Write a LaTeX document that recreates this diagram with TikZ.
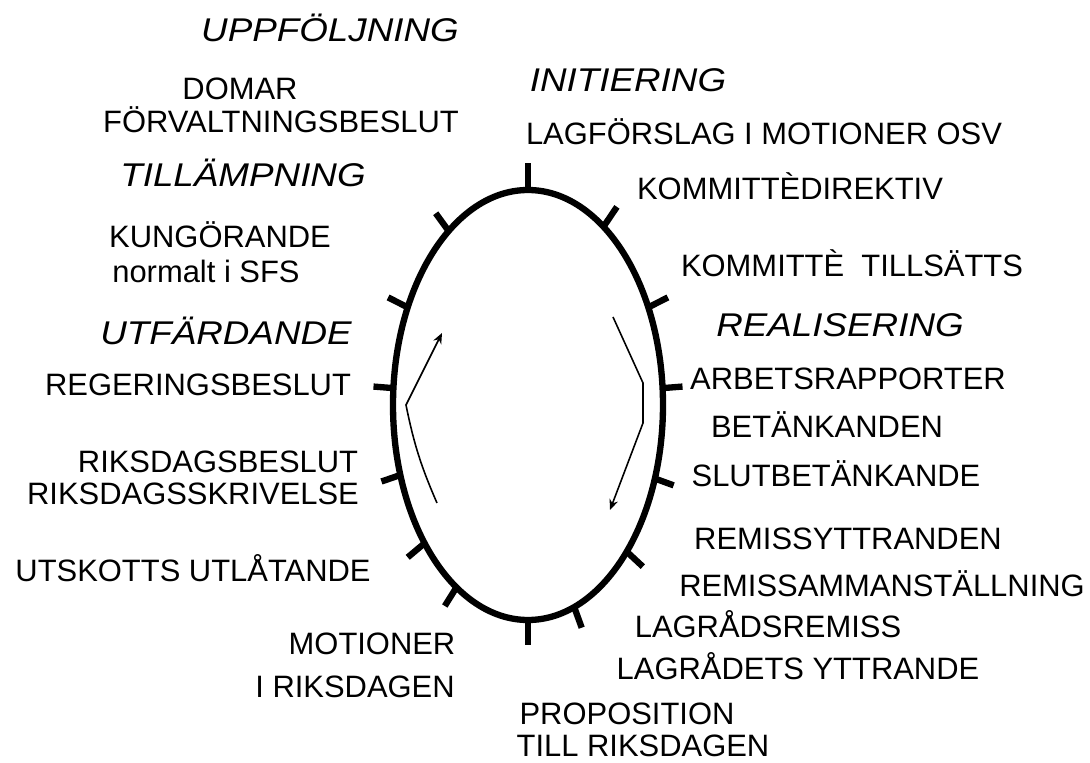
\documentclass[tikz,border=0pt]{standalone}
\usepackage{fontspec}
\setmainfont{Liberation Sans}
\newfontfamily\headfont[FakeStretch=1.12]{Liberation Sans}
\usetikzlibrary{arrows.meta, calc}

\begin{document}
\begin{tikzpicture}[x=0.02cm, y=0.02cm]
    \tikzset{
        item label/.style={font=\fontsize{17.6}{20}\selectfont, inner sep=0pt, anchor=base},
        phase label/.style={font=\headfont\itshape\fontsize{18.7}{21}\selectfont, inner sep=0pt, anchor=base},
        cycle line/.style={line width=3.6pt},
        tick mark/.style={line width=3.6pt},
        flow arrow/.style={line width=0.9pt, -{Stealth[length=6pt, width=5pt]}}
    }
    \useasboundingbox (0,-763) rectangle (1090,0);

    % --- the cycle ---
    \coordinate (cyc) at (528,-405);
    \draw[cycle line] (cyc) ellipse [x radius=135, y radius=215];
    \foreach \a/\l in {90/27, 56/24, 27/22, 4.5/20, -20/20, -43/22, -70/22, -90/25,
                       -122/22, -140/22, -161/20, 175.5/20, 153/22, 126/22}
        \draw[tick mark] ($(cyc)+(\a:135 and 215)$) -- ++(\a:\l);

    % --- direction inside ---
    \coordinate (left low) at (437,-503);
    \coordinate (left bend) at (406,-405);
    \coordinate (left tip) at (442,-333);
    \coordinate (right top) at (613,-317);
    \coordinate (right b1) at (643,-383);
    \coordinate (right b2) at (643,-423);
    \coordinate (right tip) at (610,-510);
    \draw[flow arrow] (left low) to[bend left=6] (left bend) -- (left tip);
    \draw[flow arrow] (right top) -- (right b1) -- (right b2) -- (right tip);

    % --- phases ---
    \node[phase label] (uppf) at (330,-42) {UPPFÖLJNING};
    \node[phase label] (till) at (243,-187) {TILLÄMPNING};
    \node[phase label] (utf) at (226,-345) {UTFÄRDANDE};
    \node[phase label] (init) at (628,-92) {INITIERING};
    \node[phase label] (real) at (840,-337) {REALISERING};

    % --- left side ---
    \node[item label] (domar) at (240,-100) {DOMAR};
    \node[item label] (forv) at (281,-133) {FÖRVALTNINGSBESLUT};
    \node[item label] (kung) at (220,-248) {KUNGÖRANDE};
    \node[item label] (sfs) at (206,-283) {normalt i SFS};
    \node[item label] (regb) at (198,-396) {REGERINGSBESLUT};
    \node[item label] (riksb) at (218,-473) {RIKSDAGSBESLUT};
    \node[item label] (riksskr) at (193,-505) {RIKSDAGSSKRIVELSE};
    \node[item label] (utsk) at (193,-582) {UTSKOTTS UTLÅTANDE};
    \node[item label] (mot) at (372,-655) {MOTIONER};
    \node[item label] (irik) at (355,-698) {I RIKSDAGEN};

    % --- right side ---
    \node[item label] (lagf) at (764,-145) {LAGFÖRSLAG I MOTIONER OSV};
    \node[item label] (kdir) at (790,-200) {KOMMITTÈDIREKTIV};
    \node[item label] (ktill) at (852,-277) {KOMMITTÈ\ \ TILLSÄTTS};
    \node[item label] (arb) at (848,-390) {ARBETSRAPPORTER};
    \node[item label] (bet) at (827,-438) {BETÄNKANDEN};
    \node[item label] (slut) at (836,-487) {SLUTBETÄNKANDE};
    \node[item label] (remy) at (848,-550) {REMISSYTTRANDEN};
    \node[item label] (rems) at (882,-597) {REMISSAMMANSTÄLLNING};
    \node[item label] (lagr) at (768,-638) {LAGRÅDSREMISS};
    \node[item label] (lagy) at (798,-680) {LAGRÅDETS YTTRANDE};
    \node[item label] (prop) at (627,-725) {PROPOSITION};
    \node[item label] (tillr) at (643,-757) {TILL RIKSDAGEN};
\end{tikzpicture}
\end{document}
